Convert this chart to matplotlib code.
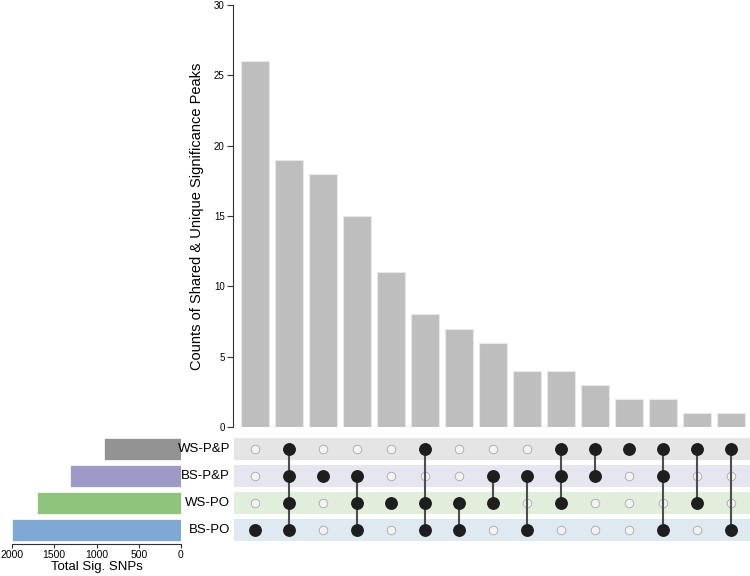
import matplotlib
matplotlib.use("Agg")
import matplotlib.pyplot as plt
import numpy as np

plt.rcParams['font.family'] = ['Liberation Sans', 'DejaVu Sans']

sets = ["WS-P&P", "BS-P&P", "WS-PO", "BS-PO"]
set_totals = [910, 1310, 1710, 1995]
set_colors = ["#939393", "#9d9ac8", "#8ec47b", "#7fa9d4"]
band_colors = ["#e5e5e5", "#e6e6f1", "#e2eedc", "#dfe9f2"]

combos = [
    ["BS-PO"],
    ["WS-P&P", "BS-P&P", "WS-PO", "BS-PO"],
    ["BS-P&P"],
    ["BS-P&P", "WS-PO", "BS-PO"],
    ["WS-PO"],
    ["WS-P&P", "WS-PO", "BS-PO"],
    ["WS-PO", "BS-PO"],
    ["BS-P&P", "WS-PO"],
    ["BS-P&P", "BS-PO"],
    ["WS-P&P", "BS-P&P", "WS-PO"],
    ["WS-P&P", "BS-P&P"],
    ["WS-P&P"],
    ["WS-P&P", "BS-P&P", "BS-PO"],
    ["WS-P&P", "WS-PO"],
    ["WS-P&P", "BS-PO"],
]
counts = [26, 19, 18, 15, 11, 8, 7, 6, 4, 4, 3, 2, 2, 1, 1]

W, H = 750, 576
fig = plt.figure(figsize=(7.5, 5.76), dpi=100)

xl = (-0.647, 14.56)
# top bar chart
ax_top = fig.add_axes([233/W, 1-427/H, (750-233)/W, 422/H])
x = np.arange(len(counts))
ax_top.bar(x, counts, width=0.82, color="#bebebe", edgecolor="#e8e8e8", linewidth=0.8)
ax_top.set_xlim(*xl)
ax_top.set_ylim(0, 30)
ax_top.set_yticks([0, 5, 10, 15, 20, 25, 30])
for s in ["top", "right", "bottom"]:
    ax_top.spines[s].set_visible(False)
ax_top.spines["left"].set_color("#333333")
ax_top.spines["left"].set_linewidth(0.8)
ax_top.set_xticks([])
ax_top.tick_params(axis="y", labelsize=7, length=4, width=0.8, color="#333333", pad=2)
ax_top.set_ylabel("Counts of Shared & Unique Significance Peaks", fontsize=10.5, labelpad=7)

# matrix
ax_m = fig.add_axes([233/W, 1-543.5/H, (750-233)/W, 108/H])
ax_m.set_xlim(*xl)
ax_m.set_ylim(3.5, -0.5)
ax_m.axis("off")
nrow = len(sets)
for r in range(nrow):
    ax_m.add_patch(plt.Rectangle((xl[0] + 0.03, r - 0.41), xl[1] - xl[0], 0.82,
                                 facecolor=band_colors[r], edgecolor="none", zorder=0))
for c, combo in enumerate(combos):
    rows = [sets.index(s) for s in combo]
    empty = [r for r in range(nrow) if r not in rows]
    ax_m.scatter([c]*len(empty), empty, s=38, facecolor="#f3f3f3", edgecolor="#a8a8a8",
                 linewidth=0.6, zorder=2)
    if len(rows) > 1:
        ax_m.plot([c, c], [min(rows), max(rows)], color="#4d4d4d", lw=1.5, zorder=3)
    ax_m.scatter([c]*len(rows), rows, s=68, color="#1e1e1e", zorder=4)

for r, name in enumerate(sets):
    fig.text(230/W, 1-(449 + 27*r)/H, name, ha="right", va="center", fontsize=9.5)

# left bar chart
ax_l = fig.add_axes([12/W, 1-543.5/H, 169/W, 108/H])
ax_l.barh(np.arange(nrow), set_totals, height=0.82, color=set_colors, edgecolor="white", linewidth=0.5)
ax_l.set_xlim(2000, 0)
ax_l.set_ylim(3.5, -0.5)
ax_l.set_yticks([])
for s in ["top", "right", "left"]:
    ax_l.spines[s].set_visible(False)
ax_l.spines["bottom"].set_color("#333333")
ax_l.spines["bottom"].set_linewidth(0.8)
ax_l.set_xticks([2000, 1500, 1000, 500, 0])
ax_l.tick_params(axis="x", labelsize=7.5, length=3, width=0.8, color="#333333", pad=1.5)
ax_l.set_xlabel("Total Sig. SNPs", fontsize=9.5, labelpad=1)

fig.savefig("out.png", dpi=100)
